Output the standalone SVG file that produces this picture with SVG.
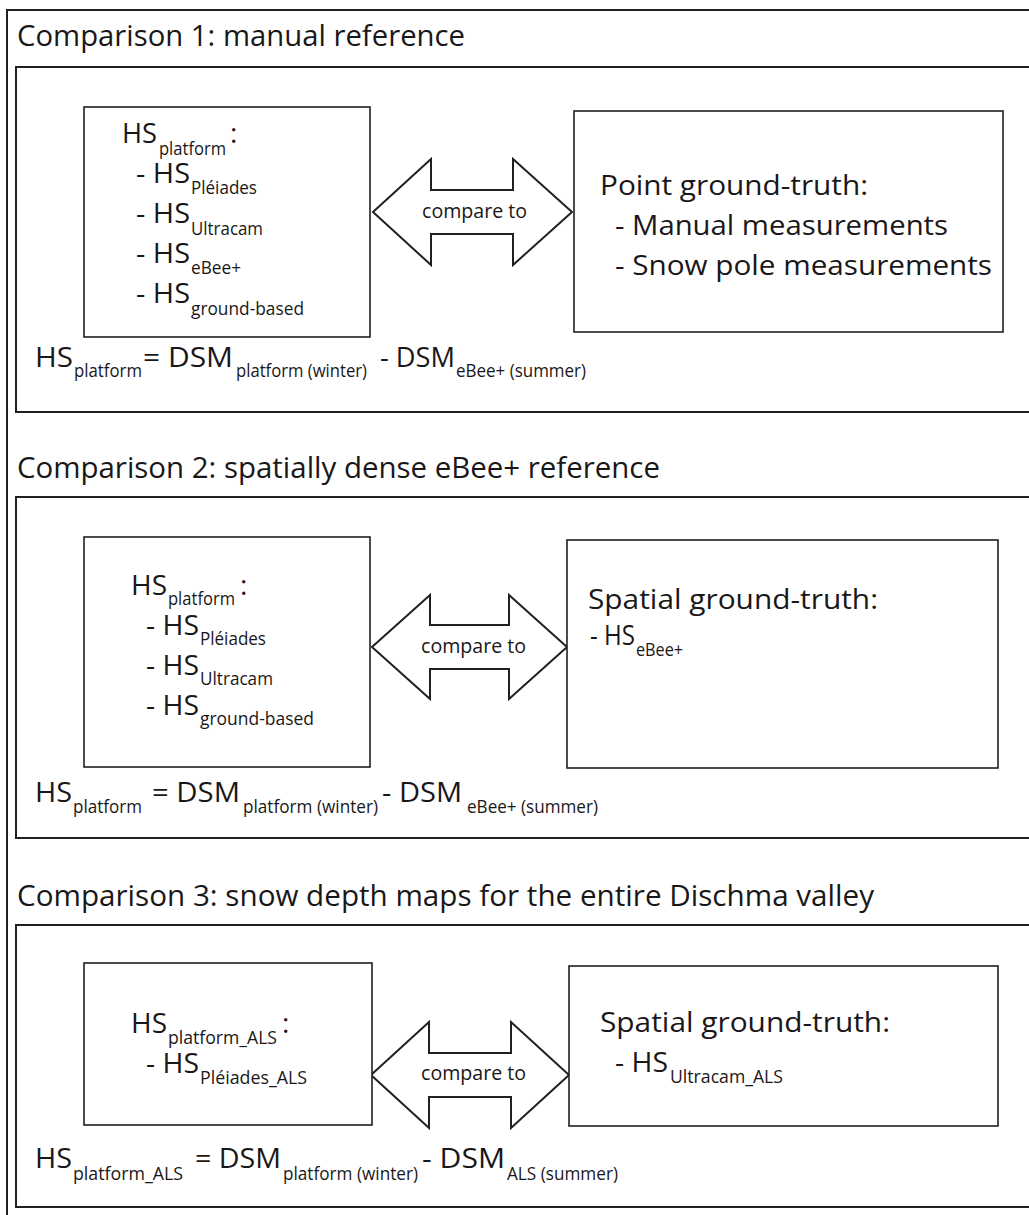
<svg xmlns="http://www.w3.org/2000/svg" width="1029" height="1215" viewBox="0 0 1029 1215">
<style>
text{font-family:"Open Sans","Noto Sans","Liberation Sans",sans-serif;fill:#1a1718}
.t{font-size:30px}
.m{font-size:28px}
.s{font-size:19px}
.c{font-size:20px}
.frame{fill:none;stroke:#231f20;stroke-width:2}
.box{fill:#fff;stroke:#231f20;stroke-width:1.6}
.arrow{fill:#fff;stroke:#231f20;stroke-width:2;stroke-linejoin:miter}
</style>
<rect width="1029" height="1215" fill="#fff"/>
<g id="frames">
<rect class="frame" x="7" y="10" width="1040" height="1220"/>
<rect class="frame" x="16" y="67" width="1030" height="345"/>
<rect class="frame" x="16" y="497" width="1030" height="341"/>
<rect class="frame" x="16" y="925" width="1030" height="282"/>
</g>
<g id="titles">
<text class="t" x="17" y="46" textLength="448" lengthAdjust="spacingAndGlyphs">Comparison 1: manual reference</text>
<text class="t" x="17" y="478" textLength="643" lengthAdjust="spacingAndGlyphs">Comparison 2: spatially dense eBee+ reference</text>
<text class="t" x="17" y="906" textLength="857" lengthAdjust="spacingAndGlyphs">Comparison 3: snow depth maps for the entire Dischma valley</text>
</g>
<g id="connectors">
<g id="arrow1">
<path class="arrow" d="M373,212 L431,159 L431,190 L513,190 L513,159 L572,212 L513,265 L513,234 L431,234 L431,265 Z"/>
<text class="c" x="422" y="218" textLength="105" lengthAdjust="spacingAndGlyphs">compare to</text>
</g>
<g id="arrow2">
<path class="arrow" d="M372,647 L430,595 L430,625 L509,625 L509,595 L567,647 L509,699 L509,669 L430,669 L430,699 Z"/>
<text class="c" x="421" y="653" textLength="105" lengthAdjust="spacingAndGlyphs">compare to</text>
</g>
<g id="arrow3">
<path class="arrow" d="M371,1075 L429,1022 L429,1053 L511,1053 L511,1022 L569,1075 L511,1128 L511,1097 L429,1097 L429,1128 Z"/>
<text class="c" x="421" y="1080" textLength="105" lengthAdjust="spacingAndGlyphs">compare to</text>
</g>
</g>
<g id="node-platform1">
<rect class="box" x="84" y="107" width="286" height="230"/>
<text><tspan class="m" x="122" y="143" textLength="35" lengthAdjust="spacingAndGlyphs">HS</tspan><tspan class="s" x="159" y="155" textLength="67" lengthAdjust="spacingAndGlyphs">platform</tspan><tspan class="m" x="230" y="143">:</tspan></text>
<text><tspan class="m" x="136" y="183" textLength="54" lengthAdjust="spacingAndGlyphs">- HS</tspan><tspan class="s" x="191" y="194" textLength="66" lengthAdjust="spacingAndGlyphs">Pléiades</tspan></text>
<text><tspan class="m" x="136" y="223" textLength="54" lengthAdjust="spacingAndGlyphs">- HS</tspan><tspan class="s" x="191" y="235" textLength="72" lengthAdjust="spacingAndGlyphs">Ultracam</tspan></text>
<text><tspan class="m" x="136" y="263" textLength="54" lengthAdjust="spacingAndGlyphs">- HS</tspan><tspan class="s" x="191" y="274" textLength="50" lengthAdjust="spacingAndGlyphs">eBee+</tspan></text>
<text><tspan class="m" x="136" y="303" textLength="54" lengthAdjust="spacingAndGlyphs">- HS</tspan><tspan class="s" x="191" y="315" textLength="113" lengthAdjust="spacingAndGlyphs">ground-based</tspan></text>
</g>
<g id="formula1">
<text><tspan class="m" x="35" y="367" textLength="38" lengthAdjust="spacingAndGlyphs">HS</tspan><tspan class="s" x="74" y="377" textLength="68" lengthAdjust="spacingAndGlyphs">platform</tspan><tspan class="m" x="143" y="367" textLength="90" lengthAdjust="spacingAndGlyphs">= DSM</tspan><tspan class="s" x="236" y="377" textLength="131" lengthAdjust="spacingAndGlyphs">platform (winter)</tspan><tspan class="m" x="380" y="367" textLength="75" lengthAdjust="spacingAndGlyphs">- DSM</tspan><tspan class="s" x="456" y="377" textLength="130" lengthAdjust="spacingAndGlyphs">eBee+ (summer)</tspan></text>
</g>
<g id="node-truth1">
<rect class="box" x="574" y="111" width="429" height="221"/>
<text class="m" x="600" y="195" textLength="268" lengthAdjust="spacingAndGlyphs">Point ground-truth:</text>
<text class="m" x="615" y="235" textLength="333" lengthAdjust="spacingAndGlyphs">- Manual measurements</text>
<text class="m" x="615" y="275" textLength="377" lengthAdjust="spacingAndGlyphs">- Snow pole measurements</text>
</g>
<g id="node-platform2">
<rect class="box" x="84" y="537" width="286" height="230"/>
<text><tspan class="m" x="131" y="595" textLength="36" lengthAdjust="spacingAndGlyphs">HS</tspan><tspan class="s" x="168" y="605" textLength="67" lengthAdjust="spacingAndGlyphs">platform</tspan><tspan class="m" x="240" y="595">:</tspan></text>
<text><tspan class="m" x="146" y="635" textLength="53" lengthAdjust="spacingAndGlyphs">- HS</tspan><tspan class="s" x="200" y="645" textLength="66" lengthAdjust="spacingAndGlyphs">Pléiades</tspan></text>
<text><tspan class="m" x="146" y="675" textLength="53" lengthAdjust="spacingAndGlyphs">- HS</tspan><tspan class="s" x="200" y="685" textLength="73" lengthAdjust="spacingAndGlyphs">Ultracam</tspan></text>
<text><tspan class="m" x="146" y="715" textLength="53" lengthAdjust="spacingAndGlyphs">- HS</tspan><tspan class="s" x="200" y="725" textLength="114" lengthAdjust="spacingAndGlyphs">ground-based</tspan></text>
</g>
<g id="formula2">
<text><tspan class="m" x="35" y="802" textLength="37" lengthAdjust="spacingAndGlyphs">HS</tspan><tspan class="s" x="73" y="813" textLength="69" lengthAdjust="spacingAndGlyphs">platform</tspan><tspan class="m" x="152" y="802" textLength="88" lengthAdjust="spacingAndGlyphs">= DSM</tspan><tspan class="s" x="243" y="813" textLength="135" lengthAdjust="spacingAndGlyphs">platform (winter)</tspan><tspan class="m" x="382" y="802" textLength="80" lengthAdjust="spacingAndGlyphs">- DSM</tspan><tspan class="s" x="467" y="813" textLength="131" lengthAdjust="spacingAndGlyphs">eBee+ (summer)</tspan></text>
</g>
<g id="node-truth2">
<rect class="box" x="567" y="540" width="431" height="228"/>
<text class="m" x="588" y="609" textLength="290" lengthAdjust="spacingAndGlyphs">Spatial ground-truth:</text>
<text><tspan class="m" x="590" y="645" textLength="45" lengthAdjust="spacingAndGlyphs">- HS</tspan><tspan class="s" x="636" y="656" textLength="47" lengthAdjust="spacingAndGlyphs">eBee+</tspan></text>
</g>
<g id="node-platform3">
<rect class="box" x="84" y="963" width="288" height="162"/>
<text><tspan class="m" x="131" y="1033" textLength="36" lengthAdjust="spacingAndGlyphs">HS</tspan><tspan class="s" x="168" y="1044" textLength="109" lengthAdjust="spacingAndGlyphs">platform_ALS</tspan><tspan class="m" x="282" y="1033">:</tspan></text>
<text><tspan class="m" x="146" y="1073" textLength="53" lengthAdjust="spacingAndGlyphs">- HS</tspan><tspan class="s" x="200" y="1084" textLength="107" lengthAdjust="spacingAndGlyphs">Pléiades_ALS</tspan></text>
</g>
<g id="formula3">
<text><tspan class="m" x="35" y="1168" textLength="37" lengthAdjust="spacingAndGlyphs">HS</tspan><tspan class="s" x="73" y="1180" textLength="110" lengthAdjust="spacingAndGlyphs">platform_ALS</tspan><tspan class="m" x="195" y="1168" textLength="86" lengthAdjust="spacingAndGlyphs">= DSM</tspan><tspan class="s" x="283" y="1180" textLength="135" lengthAdjust="spacingAndGlyphs">platform (winter)</tspan><tspan class="m" x="422" y="1168" textLength="83" lengthAdjust="spacingAndGlyphs">- DSM</tspan><tspan class="s" x="507" y="1180" textLength="111" lengthAdjust="spacingAndGlyphs">ALS (summer)</tspan></text>
</g>
<g id="node-truth3">
<rect class="box" x="569" y="966" width="429" height="160"/>
<text class="m" x="600" y="1032" textLength="290" lengthAdjust="spacingAndGlyphs">Spatial ground-truth:</text>
<text><tspan class="m" x="615" y="1072" textLength="53" lengthAdjust="spacingAndGlyphs">- HS</tspan><tspan class="s" x="670" y="1083" textLength="113" lengthAdjust="spacingAndGlyphs">Ultracam_ALS</tspan></text>
</g>
</svg>
